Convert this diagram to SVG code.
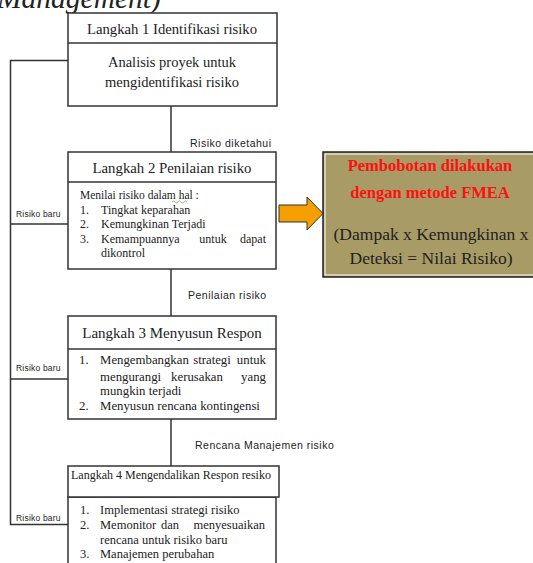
<svg xmlns="http://www.w3.org/2000/svg" width="533" height="563" viewBox="0 0 533 563">
<style>
.box{fill:#fff;stroke:#333;stroke-width:1.5}
.ln{fill:none;stroke:#333;stroke-width:1.5}
.t{font-family:"Liberation Serif","Times New Roman",serif;fill:#222}
.s{font-family:"Liberation Sans",Arial,sans-serif;fill:#222;font-size:10.5px;letter-spacing:0.5px}
.r{font-size:8.5px;letter-spacing:0.2px}
.c{text-anchor:middle}
.e{text-anchor:end}
.red{font-family:"Liberation Serif","Times New Roman",serif;font-weight:bold;fill:#ff1010}
</style>
<rect width="533" height="563" fill="#fff"/>
<text class="t" x="-3" y="8" font-size="29.5" font-style="italic">Management)</text>

<g id="connectors">
<polyline class="ln" points="68,60.5 10.5,60.5 10.5,524.5 68,524.5"/>
<line class="ln" x1="10.5" y1="224" x2="68" y2="224"/>
<line class="ln" x1="10.5" y1="379" x2="68" y2="379"/>
<line class="ln" x1="171" y1="106" x2="171" y2="152"/>
<line class="ln" x1="171" y1="269" x2="171" y2="316"/>
<line class="ln" x1="171" y1="419" x2="171" y2="466"/>
<text class="s" x="190" y="147">Risiko diketahui</text>
<text class="s" x="188" y="299">Penilaian risiko</text>
<text class="s" x="195" y="449">Rencana Manajemen risiko</text>
<text class="s r" x="16" y="217">Risiko baru</text>
<text class="s r" x="16" y="371">Risiko baru</text>
<text class="s r" x="16" y="521">Risiko baru</text>
</g>

<g id="step1">
<rect class="box" x="68" y="13" width="209" height="93"/>
<line class="ln" x1="68" y1="43" x2="277" y2="43"/>
<text class="t c" x="172" y="34" font-size="14.7">Langkah 1 Identifikasi risiko</text>
<text class="t c" x="172" y="67" font-size="14.5">Analisis proyek untuk</text>
<text class="t c" x="172" y="87" font-size="14.5">mengidentifikasi risiko</text>
</g>

<g id="step2">
<rect class="box" x="68" y="152" width="208" height="117"/>
<line class="ln" x1="68" y1="182" x2="276" y2="182"/>
<text class="t c" x="172" y="173" font-size="14.8">Langkah 2 Penilaian risiko</text>
<g class="t" font-size="12">
<text x="80" y="199" font-size="11.5">Menilai risiko dalam hal :</text>
<path d="M172,202 q1.5,-2 3,0 t3,0 t3,0 t3,0 t3,0" fill="none" stroke="#7a9a3a" stroke-width="0.7"/>
<text x="80" y="214">1.</text><text x="101" y="214">Tingkat keparahan</text>
<text x="80" y="228">2.</text><text x="101" y="228">Kemungkinan Terjadi</text>
<text x="80" y="243">3.</text><text x="101" y="243">Kemampuannya</text><text class="c" x="213" y="243">untuk</text><text class="e" x="266" y="243">dapat</text>
<text x="101" y="257">dikontrol</text>
</g>
</g>

<g id="fmea">
<path d="M279,205 H307 V197 L323,213.5 L307,230 V222 H279 Z" fill="#f5a000" stroke="#333" stroke-width="1"/>
<rect x="323" y="152" width="212" height="125" fill="#a89b65" stroke="#222" stroke-width="1.5"/>
<rect x="325" y="154" width="210" height="121" fill="none" stroke="#fff" stroke-width="1"/>
<text class="red c" x="430" y="171" font-size="16.5">Pembobotan dilakukan</text>
<text class="red c" x="430" y="198" font-size="16.5">dengan metode FMEA</text>
<text class="t c" x="431" y="240" font-size="17.5">(Dampak x Kemungkinan x</text>
<text class="t c" x="431" y="264" font-size="17.5">Deteksi = Nilai Risiko)</text>
</g>

<g id="step3">
<rect class="box" x="68" y="316" width="208" height="103"/>
<line class="ln" x1="68" y1="349" x2="276" y2="349"/>
<text class="t c" x="172" y="338" font-size="15">Langkah 3 Menyusun Respon</text>
<g class="t" font-size="12.8">
<text x="79" y="364">1.</text><text x="100" y="364">Mengembangkan</text><text class="c" x="212" y="364">strategi</text><text class="e" x="266" y="364">untuk</text>
<text x="100" y="381">mengurangi</text><text class="c" x="197" y="381">kerusakan</text><text class="e" x="266" y="381">yang</text>
<text x="100" y="395">mungkin terjadi</text>
<text x="79" y="410">2.</text><text x="100" y="410">Menyusun rencana kontingensi</text>
</g>
</g>

<g id="step4">
<rect class="box" x="68" y="497" width="208" height="75"/>
<rect class="box" x="68" y="466" width="211" height="31"/>
<text class="t" x="71" y="479" font-size="12">Langkah 4 Mengendalikan Respon resiko</text>
<g class="t" font-size="12.5">
<text x="80" y="514">1.</text><text x="100" y="514">Implementasi strategi risiko</text>
<text x="80" y="529">2.</text><text x="100" y="529">Memonitor</text><text class="c" x="170" y="529">dan</text><text class="e" x="265" y="529">menyesuaikan</text>
<text x="100" y="544">rencana untuk risiko baru</text>
<text x="80" y="558">3.</text><text x="100" y="558">Manajemen perubahan</text>
</g>
</g>
</svg>
